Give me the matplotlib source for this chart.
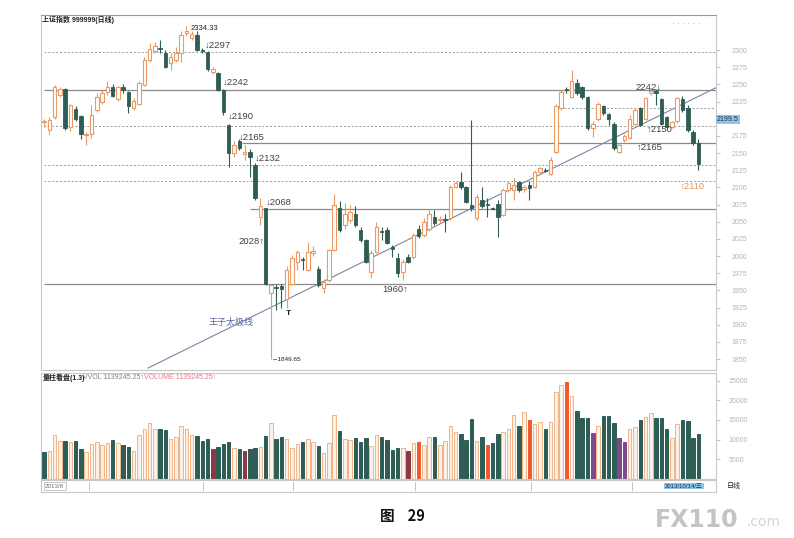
import matplotlib
matplotlib.use("Agg")
import matplotlib.pyplot as plt
import numpy as np

plt.rcParams['font.family'] = ['Liberation Sans', 'DejaVu Sans', 'Noto Sans CJK SC']

# daily OHLC of 上证指数
opens = [2195, 2183, 2202, 2235, 2243, 2188, 2214, 2204, 2176, 2178,
         2213, 2225, 2239, 2246, 2228, 2246, 2239, 2215, 2222, 2249,
         2285, 2298, 2303, 2295, 2281, 2286, 2295, 2325, 2318, 2322,
         2300, 2297, 2268, 2266, 2242, 2191, 2150, 2168, 2148, 2152,
         2133, 2057, 2070, 1947, 1955, 1956, 1938, 1960, 1992, 1995,
         1980, 2005, 1981, 1953, 1965, 2009, 2070, 2045, 2052, 2062,
         2038, 2023, 1977, 2006, 2036, 2038, 2013, 1997, 1977, 1999,
         1999, 2040, 2031, 2040, 2057, 2052, 2053, 2055, 2101, 2108,
         2100, 2075, 2055, 2082, 2076, 2070, 2076, 2060, 2096, 2096,
         2108, 2097, 2103, 2101, 2123, 2125, 2120, 2152, 2215, 2244,
         2232, 2252, 2246, 2231, 2186, 2199, 2218, 2207, 2193, 2152,
         2169, 2172, 2193, 2215, 2200, 2237, 2240, 2228, 2202, 2188,
         2196, 2228, 2215, 2180, 2164]
highs = [2200, 2203, 2249, 2246, 2245, 2222, 2218, 2206, 2180, 2220,
         2237, 2242, 2255, 2250, 2248, 2250, 2241, 2230, 2255, 2290,
         2310, 2312, 2315, 2300, 2295, 2305, 2327, 2334.33, 2328, 2328,
         2303, 2299, 2275, 2268, 2244, 2193, 2167, 2170, 2162, 2156,
         2135, 2084, 2070, 1960, 1960, 1960, 1985, 2002, 2009, 1998,
         2021, 2015, 1985, 1967, 2011, 2091, 2080, 2077, 2075, 2073,
         2043, 2025, 2009, 2050, 2043, 2043, 2016, 2004, 1996, 2003,
         2034, 2045, 2055, 2067, 2067, 2058, 2062, 2103, 2110, 2123,
         2102, 2198, 2091, 2100, 2085, 2072, 2082, 2099, 2108, 2113,
         2110, 2104, 2110, 2125, 2130, 2128, 2145, 2222, 2242, 2246,
         2271, 2258, 2248, 2233, 2196, 2225, 2220, 2209, 2195, 2164,
         2178, 2205, 2216, 2217, 2232, 2245, 2244, 2230, 2204, 2197,
         2232, 2233, 2220, 2184, 2170]
lows = [2188, 2176, 2200, 2232, 2184, 2182, 2196, 2171, 2162, 2172,
        2210, 2222, 2235, 2232, 2226, 2238, 2208, 2212, 2220, 2247,
        2283, 2295, 2295, 2274, 2271, 2283, 2283, 2320, 2314, 2298,
        2296, 2270, 2265, 2240, 2206, 2130, 2145, 2155, 2140, 2115,
        2082, 2045, 1958, 1849.65, 1922, 1925, 1925, 1958, 1980, 1980,
        1978, 2000, 1955, 1946, 1962, 2007, 2035, 2040, 2048, 2043,
        2020, 1990, 1968, 2004, 2024, 2017, 1999, 1970, 1965, 1990,
        1996, 2027, 2028, 2036, 2045, 2048, 2035, 2053, 2099, 2098,
        2077, 2066, 2053, 2070, 2057, 2067, 2028, 2058, 2094, 2082,
        2094, 2094, 2082, 2099, 2121, 2122, 2118, 2150, 2212, 2238,
        2230, 2235, 2229, 2184, 2174, 2197, 2206, 2191, 2155, 2150,
        2166, 2170, 2191, 2189, 2198, 2235, 2220, 2191, 2186, 2186,
        2194, 2210, 2180, 2162, 2125]
closes = [2196, 2198, 2246, 2243, 2186, 2220, 2200, 2178, 2177, 2205,
          2231, 2237, 2246, 2233, 2246, 2242, 2218, 2226, 2252, 2285,
          2302, 2306, 2302, 2276, 2290, 2296, 2322, 2328, 2324, 2300,
          2299, 2273, 2272, 2242, 2210, 2150, 2162, 2157, 2152, 2145,
          2085, 2073, 1960, 1958, 1953, 1952, 1980, 1997, 2006, 1994,
          2006, 2008, 1958, 1963, 2009, 2074, 2038, 2062, 2064, 2045,
          2023, 1992, 2004, 2043, 2035, 2019, 2011, 1975, 1992, 1992,
          2031, 2029, 2050, 2062, 2048, 2054, 2052, 2101, 2107, 2101,
          2079, 2070, 2086, 2073, 2075, 2069, 2057, 2096, 2106, 2103,
          2096, 2100, 2099, 2123, 2128, 2124, 2140, 2218, 2239, 2242,
          2255, 2237, 2231, 2186, 2193, 2222, 2208, 2199, 2157, 2162,
          2175, 2200, 2213, 2191, 2230, 2240, 2237, 2193, 2188, 2195,
          2230, 2212, 2183, 2164, 2134]

volumes = [6776, 7200, 11096, 9656, 9656, 9317, 9740, 7623, 6945, 8893,
           9317, 8724, 9148, 9825, 9148, 8640, 8216, 7115, 11096, 12620,
           14145, 12620, 12790, 12366, 10164, 10672, 13383, 12790, 11180, 10842,
           9740, 10248, 7708, 8131, 8893, 9402, 7792, 7538, 7030, 7538,
           7877, 8046, 10842, 14145, 10079, 10588, 10164, 7877, 8809, 9402,
           10164, 9402, 8385, 6522, 9063, 16262, 12197, 10164, 9825, 10418,
           9402, 10503, 8385, 11180, 10588, 9825, 7369, 7877, 7877, 7030,
           9232, 9402, 8640, 10588, 10588, 8555, 9656, 13383, 11943, 11435,
           9995, 15246, 9740, 10672, 8724, 9148, 11350, 12028, 12705, 16262,
           13383, 17109, 14992, 13976, 14399, 12705, 14399, 22107, 23801, 24563,
           21090, 17194, 15585, 15415, 11604, 13468, 16093, 16093, 14145, 10503,
           9402, 12790, 13213, 15077, 15754, 16771, 15415, 15585, 12620, 10503,
           13891, 14992, 14738, 10333, 11435]
# indicator class of each volume bar: u up, d down, r / m / p marked bars
vol_flag = ['d', 'u', 'u', 'u', 'd', 'u', 'd', 'd', 'u', 'u',
            'u', 'u', 'u', 'd', 'u', 'd', 'd', 'u', 'u', 'u',
            'u', 'u', 'd', 'd', 'u', 'u', 'u', 'u', 'u', 'd',
            'd', 'd', 'm', 'd', 'd', 'd', 'u', 'd', 'm', 'd',
            'd', 'u', 'd', 'u', 'd', 'd', 'u', 'u', 'u', 'd',
            'u', 'u', 'd', 'u', 'u', 'u', 'd', 'u', 'u', 'd',
            'd', 'd', 'u', 'u', 'd', 'd', 'd', 'd', 'u', 'm',
            'u', 'r', 'u', 'u', 'd', 'u', 'u', 'u', 'u', 'd',
            'd', 'd', 'u', 'd', 'r', 'd', 'd', 'u', 'u', 'u',
            'd', 'u', 'r', 'u', 'u', 'd', 'u', 'u', 'u', 'r',
            'u', 'd', 'd', 'd', 'p', 'u', 'd', 'd', 'd', 'p',
            'p', 'u', 'u', 'd', 'u', 'u', 'd', 'd', 'd', 'u',
            'u', 'd', 'd', 'd', 'd']

# support / resistance levels drawn on the chart: (level, first bar)
dashed_levels = [(2297, 0), (2215, 97), (2190, 0), (2132, 0), (2110, 0)]
solid_levels = [(2242, 0), (2165, 37.5), (2068, 39), (1960, 0)]
trend_line = ([19.7, 127.3], [1837, 2245])
last_price = 2199.5

price_ticks = list(range(1850, 2301, 25))
vol_ticks = [5000, 10000, 15000, 20000, 25000]

# text labels: (bar position, price, text, colour, alignment)
labels = [
    (30.5, 2307, "↓2297", '#404040', 'left'),
    (33.9, 2253, "↓2242", '#404040', 'left'),
    (34.9, 2204, "↓2190", '#404040', 'left'),
    (37.0, 2173, "↓2165", '#404040', 'left'),
    (40.0, 2143, "↓2132", '#404040', 'left'),
    (42.1, 2079, "↓2068", '#404040', 'left'),
    (41.8, 2022, "2028↑", '#404040', 'right'),
    (64.1, 1952, "1960↑", '#404040', 'left'),
    (112.0, 2246, "2242↓", '#404040', 'left'),
    (114.3, 2184, "↑2150", '#404040', 'left'),
    (112.4, 2159, "↑2165", '#404040', 'left'),
    (120.5, 2102, "↑2110", '#e8955a', 'left'),
]

UP = '#eb9a64'
DN = '#2d5d55'
vol_colors = {'u': '#fdf1e6', 'd': DN, 'r': '#f2592a', 'm': '#8a3848', 'p': '#7b4a8c'}

o = np.array(opens, float)
h = np.array(highs, float)
l = np.array(lows, float)
c = np.array(closes, float)
x = np.arange(len(o))
up = c >= o

fig = plt.figure(figsize=(7.94, 5.38), dpi=100)
W, H = 794.0, 538.0
ax = fig.add_axes([41 / W, 1 - 370 / H, 675 / W, 355 / H])
axv = fig.add_axes([41 / W, 1 - 479 / H, 675 / W, 106 / H])
axs = fig.add_axes([41 / W, 1 - 492 / H, 675 / W, 12 / H])

xlim = (-0.57, 127.35)

# price panel
for lev, start in dashed_levels:
    ax.hlines(lev, start, xlim[1], colors='#9a9a9a', linestyles=(0, (2, 2)), lw=0.7, zorder=1)
for lev, start in solid_levels:
    ax.hlines(lev, start, xlim[1], colors='#8a8a8a', lw=0.9, zorder=1)
ax.plot(trend_line[0], trend_line[1], color='#7a84a8', lw=0.8, zorder=1)

body_lo = np.minimum(o, c)
body_h = np.maximum(np.abs(c - o), 1.3)
ax.vlines(x[up], l[up], h[up], color=UP, lw=0.8, zorder=2)
ax.vlines(x[~up], l[~up], h[~up], color=DN, lw=0.8, zorder=2)
ax.bar(x[up], body_h[up], bottom=body_lo[up], width=0.66, facecolor='white',
       edgecolor=UP, lw=0.8, zorder=3)
ax.bar(x[~up], body_h[~up], bottom=body_lo[~up], width=0.66, facecolor=DN,
       edgecolor=DN, lw=0.6, zorder=3)

ax.set_xlim(*xlim)
ax.set_ylim(1834.2, 2351)
ax.set_xticks([])
ax.yaxis.tick_right()
ax.set_yticks(price_ticks)
# the 2200 label sits under the last-price box
ax.set_yticklabels(['' if t == 2200 else str(t) for t in price_ticks])
ax.tick_params(axis='y', labelsize=5, labelcolor='#b4b4b4', color='#c4c4c4', length=3, pad=8)
for s in ax.spines.values():
    s.set_color('#c8c8c8')
    s.set_linewidth(0.8)
ax.spines['top'].set_color('#9a9a9a')

for xi, yi, txt, col, ha in labels:
    ax.text(xi, yi, txt, fontsize=6.8, color=col, ha=ha, va='center', zorder=5)
ax.text(27.8, 2331, "2334.33", fontsize=5.5, color='#202020', ha='left', va='center')
ax.text(43.2, 1849.65, "←1849.65", fontsize=4.6, color='#202020', ha='left', va='center')
ax.text(46.4, 1917, "T", fontsize=6, color='#202020', ha='center', va='center', weight='bold')
ax.text(31.1, 1904, "王子太极线", fontsize=6.5, color='#5a66a8', ha='left', va='center')
ax.text(xlim[1] + 0.2, last_price, "2199.5", fontsize=5, color='#203040',
        ha='left', va='center', clip_on=False, zorder=6,
        bbox=dict(boxstyle='square,pad=0.15', facecolor='#8fc6e8', edgecolor='none'))

# volume panel
vcols = [vol_colors[f] for f in vol_flag]
vedges = ['#f0b488' if f == 'u' else vol_colors[f] for f in vol_flag]
axv.bar(x, volumes, width=0.66, color=vcols, edgecolor=vedges, lw=0.7)
axv.set_xlim(*xlim)
axv.set_ylim(0, 26904)
axv.set_xticks([])
axv.yaxis.tick_right()
axv.set_yticks(vol_ticks)
axv.set_yticklabels([str(t) for t in vol_ticks])
axv.tick_params(axis='y', labelsize=5, labelcolor='#b4b4b4', color='#c4c4c4', length=3, pad=6)
for s in axv.spines.values():
    s.set_color('#c8c8c8')
    s.set_linewidth(0.8)
axv.text(0.002, 0.955, "量柱看盘(1.3)", transform=axv.transAxes, fontsize=5,
         color='#202020', weight='bold', va='center')
axv.text(0.062, 0.955, "VVOL 1139245.25↑", transform=axv.transAxes, fontsize=5,
         color='#808080', va='center')
axv.text(0.153, 0.955, "VOLUME 1139245.25↑", transform=axv.transAxes, fontsize=5,
         color='#e07a8a', va='center')

# date strip
axs.set_xlim(*xlim)
axs.set_ylim(0, 1)
axs.set_xticks([])
axs.set_yticks([])
for s in axs.spines.values():
    s.set_color('#c8c8c8')
    s.set_linewidth(0.8)
axs.text(0.2, 0.5, "2013/8", fontsize=4.5, color='#707070', va='center',
         bbox=dict(boxstyle='square,pad=0.2', facecolor='none', edgecolor='#b0b0b0', lw=0.5))
for xp in [8.5, 30.1, 47.2, 70.3, 92.3, 111.4]:
    axs.axvline(xp, ymin=0.2, ymax=0.8, color='#b8b8b8', lw=0.6)
axs.text(117.7, 0.5, "2013/10/14/三", fontsize=4.3, color='#203050', va='center',
         bbox=dict(boxstyle='square,pad=0.15', facecolor='#8fc6e8', edgecolor='none'))
fig.text(727 / W, 1 - 486 / H, "日线", fontsize=5, color='#202020', va='center',
         family=['Noto Sans CJK SC', 'DejaVu Sans'])

# header and caption
fig.text(42 / W, 1 - 20 / H, "上证指数 999999(日线)", fontsize=5, color='#202020',
         va='center', weight='bold')
fig.text(672 / W, 1 - 25 / H, "· · · · · ·", fontsize=6, color='#d88a9a', va='center')
fig.text(402 / W, 1 - 516 / H, "图    29", fontsize=10.5, color='#111111', ha='center',
         va='center', weight='bold', family=['Noto Sans CJK SC', 'DejaVu Sans'])
fig.text(655 / W, 1 - 520 / H, "FX110", fontsize=17, color='#c4c4c4', va='center',
         weight='bold', family=['DejaVu Sans'])
fig.text(746 / W, 1 - 522 / H, ".com", fontsize=10, color='#d4d4d4', va='center',
         family=['DejaVu Sans'])

fig.savefig("out.png", dpi=100)
